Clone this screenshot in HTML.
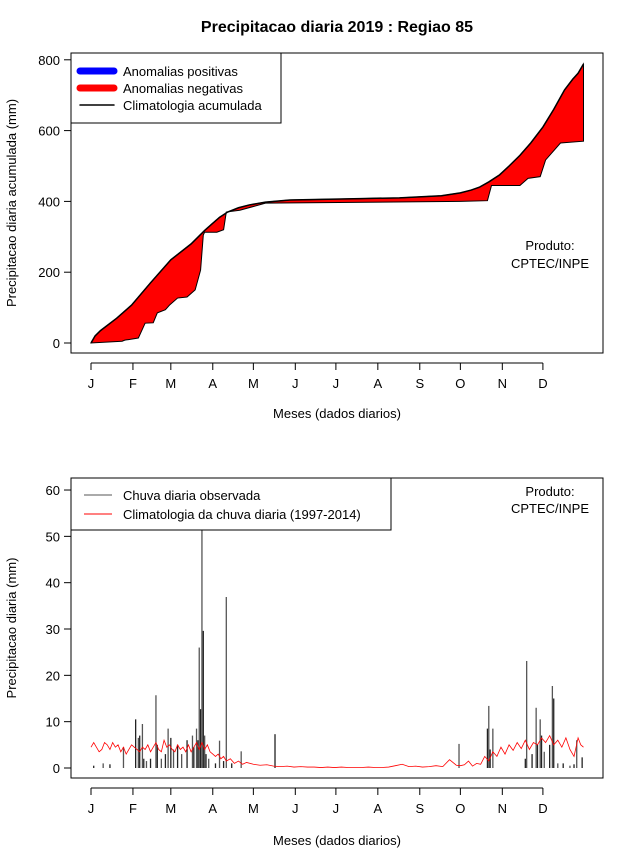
<!DOCTYPE html>
<html><head><meta charset="utf-8"><style>
body{margin:0;background:#fff;}
svg text{font-family:"Liberation Sans",sans-serif;fill:#000;}
</style></head><body>
<svg id="c" width="640" height="850" xmlns="http://www.w3.org/2000/svg">
<text x="337" y="32" font-size="16" font-weight="bold" text-anchor="middle">Precipitacao diaria 2019 : Regiao 85</text>
<g id="top"></g>
<g id="bot"></g>
</svg>
<script>
const months=["J","F","M","A","M","J","J","A","S","O","N","D"];
const monthStart=[1,32,60,91,121,152,182,213,244,274,305,335];
const climAccDays=[1,4,8,20,31,45,60,75,85,90,96,102,110,118,130,148,200,229,260,274,282,288,295,303,310,318,326,335,343,351,357,361,365];
const climAccVals=[0,20,35,70,107,170,235,280,318,335,355,370,382,390,398,404,408,410,416,424,432,440,455,475,500,530,565,610,660,715,745,762,788];
const obsAccDays=[1,24,26,36,41,47,50,56,59,65,72,78,82,84,85,94,99,101,111,130,274,294,297,318,324,333,337,348,365];
const obsAccVals=[0,5,8,14,56,57,85,94,107,127,130,150,206,305,313,313,320,370,375,395,400,402,445,445,465,470,517,565,570];
const topTicks=[0,200,400,600,800];
const obsDays=[3,10,15,25,34,36,37,39,40,42,45,49,50,53,56,58,60,62,65,68,72,76,77,79,80,81,82,83,84,85,86,88,93,96,99,101,105,112,137,273,294,295,296,298,322,323,327,330,331,333,334,336,340,342,343,346,350,355,358,360,364];
const obsVals=[0.5,1,0.8,4.5,10.5,6.5,7,9.5,2,1.5,2,15.7,5,2,3,8.5,6.5,4,5,3,6,7,4.5,8.5,6,26,12.7,51.4,29.6,7,3,2,1,5.9,1.5,36.9,1,3.6,7.3,5.2,8.5,13.4,4,8.5,2,23.1,3,13,5,10.5,7,3.5,5,17.7,15,1,1,0.5,0.8,6,2.3];
const climDays=[1,3,5,7,9,11,13,15,17,19,21,23,25,27,29,31,33,35,37,39,41,43,45,47,49,51,53,55,57,59,61,63,65,67,69,71,73,75,77,79,81,83,85,87,89,91,93,95,97,99,101,104,107,110,113,116,121,126,131,136,141,146,151,156,161,166,171,176,181,186,191,196,201,206,211,216,221,226,231,236,241,246,251,256,261,266,271,274,277,280,283,286,289,292,295,298,301,304,307,310,313,316,319,322,325,328,331,334,337,340,343,346,349,352,355,358,361,363,365];
const climVals=[4.5,5.5,4.5,3.5,4,5.5,5,4,5.5,4.5,5,3.5,4.5,3,4,5,4.5,4,3.5,4.5,4,5,3.5,4.5,5.5,4,3.5,6,4.5,5,4,3.5,5,4,4.5,3.5,5,3.5,4.5,5.5,4,5.5,4,5,3.5,3,2.5,3,2,2.5,1.5,2,1,1.5,0.8,1.2,0.8,0.6,0.7,0.4,0.3,0.4,0.2,0.3,0.2,0.2,0.1,0.2,0.1,0.2,0.1,0.1,0.1,0.2,0.1,0.1,0.2,0.5,0.8,0.3,0.4,0.2,0.3,0.5,0.3,1.8,0.6,0.5,0.7,1.5,0.4,1,0.8,2.5,1.5,3.5,2.5,4.5,3,5,3.8,5.5,4.2,6,4,5.5,5,6.5,5.5,7,5,6,4.5,6.5,4,2.5,6.5,5,4.5];
const botTicks=[0,10,20,30,40,50,60];

const NS="http://www.w3.org/2000/svg";
function el(p,t,a){const e=document.createElementNS(NS,t);for(const k in a)e.setAttribute(k,a[k]);p.appendChild(e);return e;}
const xS=d=>91+(d-1)*1.353;
function axesX(g,y0){
  const line=el(g,'line',{x1:xS(1),x2:xS(335),y1:y0,y2:y0,stroke:'#000'});
  
  months.forEach((m,i)=>{const x=xS(monthStart[i]);
    el(g,'line',{x1:x,x2:x,y1:y0,y2:y0+7,stroke:'#000'});
    const t=el(g,'text',{x:x,y:y0+25,'font-size':13,'text-anchor':'middle'});t.textContent=m;
    });
}
// TOP
const T=document.getElementById('top');
const yT=v=>343-v*0.354;
el(T,'rect',{x:71,y:53,width:532,height:300,fill:'none',stroke:'#000'});
let poly=climAccDays.map((d,i)=>xS(d)+','+yT(climAccVals[i])).join(' ')+' '+obsAccDays.slice().reverse().map((d,i)=>xS(d)+','+yT(obsAccVals[obsAccVals.length-1-i])).join(' ');
const area=el(T,'polygon',{points:poly,fill:'#ff0000',stroke:'#000','stroke-width':1});

const cl=el(T,'polyline',{points:climAccDays.map((d,i)=>xS(d)+','+yT(climAccVals[i])).join(' '),fill:'none',stroke:'#000','stroke-width':1.5});

el(T,'line',{x1:71,x2:71,y1:yT(0),y2:yT(800),stroke:'#000'});
topTicks.forEach(v=>{el(T,'line',{x1:64,x2:71,y1:yT(v),y2:yT(v),stroke:'#000'});
  const t=el(T,'text',{x:60,y:yT(v)+5,'font-size':13,'text-anchor':'end'});t.textContent=v;
  });
axesX(T,363);
let t=el(T,'text',{x:337,y:418,'font-size':13,'text-anchor':'middle'});t.textContent='Meses (dados diarios)';

t=el(T,'text',{x:16,y:203,'font-size':13,'text-anchor':'middle',transform:'rotate(-90 16 203)'});t.textContent='Precipitacao diaria acumulada (mm)';

t=el(T,'text',{x:550,y:250,'font-size':13,'text-anchor':'middle'});t.textContent='Produto:';

t=el(T,'text',{x:550,y:268,'font-size':13,'text-anchor':'middle'});t.textContent='CPTEC/INPE';

const lg=el(T,'g',{});
el(lg,'rect',{x:71,y:53,width:210,height:70,fill:'#fff',stroke:'#000'});
[['#0000ff',7,'Anomalias positivas'],['#ff0000',7,'Anomalias negativas'],['#000',1.5,'Climatologia acumulada']].forEach((r,i)=>{
  const y=71+i*17;el(lg,'line',{x1:80,x2:114,y1:y,y2:y,stroke:r[0],'stroke-width':r[1],'stroke-linecap':'round'});
  const tt=el(lg,'text',{x:123,y:y+5,'font-size':13});tt.textContent=r[2];
  });
// BOTTOM
const B=document.getElementById('bot');
const yB=v=>768-v*4.633;
el(B,'rect',{x:71,y:478,width:532,height:300,fill:'none',stroke:'#000'});
obsDays.forEach((d,i)=>{const b=el(B,'line',{x1:xS(d),x2:xS(d),y1:yB(0),y2:yB(obsVals[i]),stroke:i%2?'#555':'#222','stroke-width':1.3});
  });
const cb=el(B,'polyline',{points:climDays.map((d,i)=>xS(d)+','+yB(climVals[i])).join(' '),fill:'none',stroke:'#ff0000','stroke-width':0.8});

el(B,'line',{x1:71,x2:71,y1:yB(0),y2:yB(60),stroke:'#000'});
botTicks.forEach(v=>{el(B,'line',{x1:64,x2:71,y1:yB(v),y2:yB(v),stroke:'#000'});
  const tt=el(B,'text',{x:60,y:yB(v)+5,'font-size':13,'text-anchor':'end'});tt.textContent=v;
  });
axesX(B,788);
t=el(B,'text',{x:337,y:845,'font-size':13,'text-anchor':'middle'});t.textContent='Meses (dados diarios)';

t=el(B,'text',{x:16,y:628,'font-size':13,'text-anchor':'middle',transform:'rotate(-90 16 628)'});t.textContent='Precipitacao diaria (mm)';

t=el(B,'text',{x:550,y:496,'font-size':13,'text-anchor':'middle'});t.textContent='Produto:';

t=el(B,'text',{x:550,y:513,'font-size':13,'text-anchor':'middle'});t.textContent='CPTEC/INPE';

const lb=el(B,'g',{});
el(lb,'rect',{x:71,y:478,width:320,height:52,fill:'#fff',stroke:'#000'});
[['#555','Chuva diaria observada'],['#ff0000','Climatologia da chuva diaria (1997-2014)']].forEach((r,i)=>{
  const y=495+i*19;el(lb,'line',{x1:84,x2:112,y1:y,y2:y,stroke:r[0],'stroke-width':1});
  const tt=el(lb,'text',{x:123,y:y+5,'font-size':13});tt.textContent=r[1];
  });
</script>
</body></html>
